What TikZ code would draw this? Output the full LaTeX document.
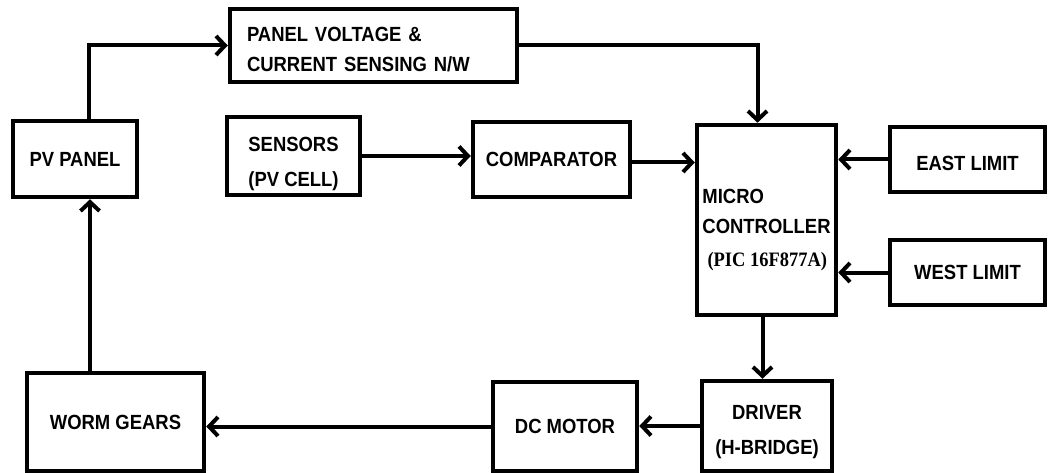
\documentclass[tikz,border=0pt]{standalone}
\usepackage{fontspec}
\setmainfont{Liberation Sans}[FakeStretch=0.9]
\newfontfamily\serifbold{Liberation Serif}[FakeStretch=0.9]
\usepackage{xcolor}
\definecolor{cLine}{HTML}{000000}
\usepackage{tikz}
\usetikzlibrary{positioning,arrows.meta,calc}
\tikzset{
  node-box/.style={draw=cLine,line width=4.5pt,align=center,inner sep=0pt,
    font=\fontsize{20.5}{35}\selectfont\bfseries},
  arrow/.style={-{Straight Barb[length=9pt,width=19pt]},line width=4pt,draw=cLine},
}
% raises the first line of a box text
\newcommand{\lift}[1]{\rule{0pt}{#1}}

\begin{document}
\begin{tikzpicture}[x=1pt,y=1pt]
  \useasboundingbox (0,0) rectangle (1048,-473);
  \node[node-box,minimum width=124pt,minimum height=76pt] (pv) at (75,-159) {PV PANEL};
  \node[node-box,minimum width=287pt,minimum height=73pt,text width=253pt,align=left] (pvs) at (373.5,-45.5)
    {\lift{22pt}PANEL VOLTAGE \&\\[-5pt]CURRENT SENSING N/W};
  \node[node-box,minimum width=133pt,minimum height=78pt] (sens) at (293.5,-156) {\lift{30pt}SENSORS\\(PV CELL)};
  \node[node-box,minimum width=157pt,minimum height=75pt] (comp) at (551.5,-159.5) {COMPARATOR};
  \node[node-box,minimum width=139pt,minimum height=190pt,align=left] (micro) at (766.5,-220)
    {\lift{34pt}MICRO\\[-5pt]CONTROLLER\\[-2pt]\ {\serifbold(PIC 16F877A)}};
  \node[node-box,minimum width=155pt,minimum height=65pt] (east) at (967.5,-159.5) {\lift{22pt}EAST LIMIT};
  \node[node-box,minimum width=155pt,minimum height=65pt] (west) at (967.5,-272.5) {WEST LIMIT};
  \node[node-box,minimum width=177pt,minimum height=98pt] (worm) at (115.5,-422) {WORM GEARS};
  \node[node-box,minimum width=144pt,minimum height=89pt] (motor) at (565,-426.5) {DC MOTOR};
  \node[node-box,minimum width=130pt,minimum height=90pt] (driver) at (767,-426) {\lift{27pt}DRIVER\\(H-BRIDGE)};
  \draw[arrow] ([xshift=14pt]pv.north) |- (pvs.west);
  \draw[arrow] (pvs.east) -| ([xshift=-9pt]micro.north);
  \draw[arrow] (sens.east) -- (sens.east -| comp.west);
  \draw[arrow] ([yshift=-3pt]comp.east) -- ([yshift=-3pt]comp.east -| micro.west);
  \draw[arrow] (east.west) -- (east.west -| micro.east);
  \draw[arrow] (west.west) -- (west.west -| micro.east);
  \draw[arrow] ([xshift=-4pt]micro.south) -- ([xshift=-4pt]micro.south |- driver.north);
  \draw[arrow] (driver.west) -- (driver.west -| motor.east);
  \draw[arrow] (motor.west) -- (motor.west -| worm.east);
  \draw[arrow] ([xshift=-25.5pt]worm.north) -- ([xshift=-25.5pt]worm.north |- pv.south);
\end{tikzpicture}
\end{document}
